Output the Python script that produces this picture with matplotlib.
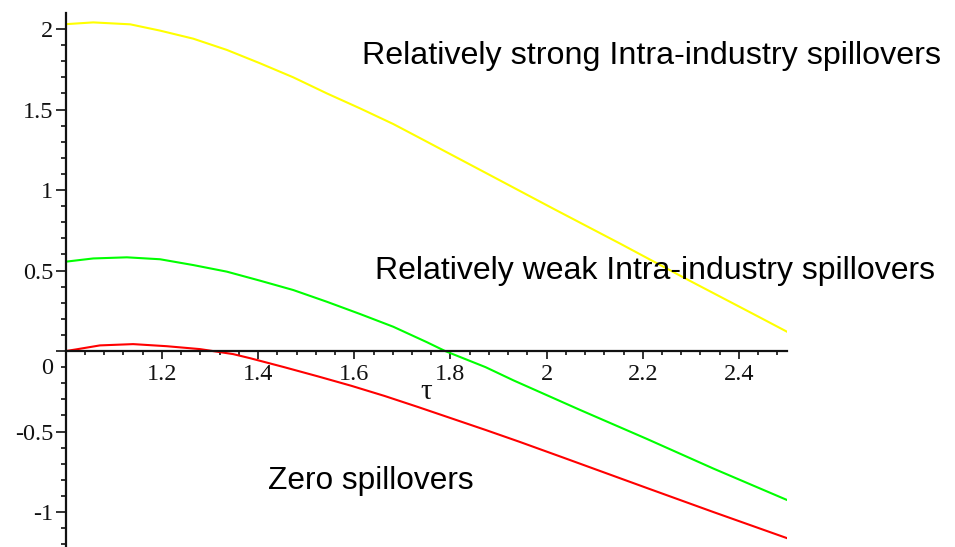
import matplotlib
matplotlib.use("Agg")
import matplotlib.pyplot as plt
from matplotlib.ticker import FixedLocator, MultipleLocator
from matplotlib.transforms import ScaledTranslation

# ---- data ----
tau_strong = [1.00, 1.057, 1.134, 1.196, 1.265, 1.335, 1.404, 1.473, 1.543,
              1.612, 1.681, 1.737, 1.875, 2.014, 2.153, 2.291, 2.430, 2.50]
val_strong = [2.03, 2.041, 2.029, 1.99, 1.94, 1.87, 1.787, 1.70, 1.60,
              1.507, 1.41, 1.322, 1.104, 0.884, 0.667, 0.447, 0.230, 0.12]

tau_weak = [1.00, 1.057, 1.127, 1.196, 1.265, 1.335, 1.404, 1.473, 1.543,
            1.612, 1.681, 1.751, 1.789, 1.873, 1.931, 2.069, 2.208, 2.347, 2.50]
val_weak = [0.555, 0.575, 0.582, 0.57, 0.534, 0.493, 0.437, 0.379, 0.306,
            0.23, 0.151, 0.055, 0.0, -0.10, -0.182, -0.365, -0.545, -0.73, -0.925]

tau_zero = [1.00, 1.021, 1.071, 1.140, 1.210, 1.279, 1.348, 1.384, 1.454,
            1.524, 1.594, 1.663, 1.733, 1.803, 1.873, 1.943, 2.033, 2.208, 2.347, 2.50]
val_zero = [0.0, 0.01, 0.035, 0.043, 0.03, 0.012, -0.019, -0.045, -0.10,
            -0.157, -0.216, -0.279, -0.348, -0.419, -0.49, -0.563, -0.66, -0.85, -1.0, -1.162]

x_ticks = [1.2, 1.4, 1.6, 1.8, 2.0, 2.2, 2.4]
x_tick_labels = ["1.2", "1.4", "1.6", "1.8", "2", "2.2", "2.4"]
y_ticks = [-1, -0.5, 0, 0.5, 1, 1.5, 2]
y_tick_labels = ["-1", "-0.5", "0", "0.5", "1", "1.5", "2"]

label_strong = "Relatively strong Intra-industry spillovers"
label_weak = "Relatively weak Intra-industry spillovers"
label_zero = "Zero spillovers"
axis_label = "\u03c4"

# ---- figure ----
W, H = 955, 547
fig = plt.figure(figsize=(W / 100, H / 100), dpi=100)
fig.patch.set_facecolor("white")
x0_px, x1_px, top_px = 65.8, 787.0, 13.3
ax = fig.add_axes([x0_px / W, 0.0, (x1_px - x0_px) / W, (H - top_px) / H])
ax.set_xlim(1.0, 2.5)
ax.set_ylim(-1.217, 2.0975)
ax.patch.set_alpha(0)

ax.plot(tau_strong, val_strong, color="#FFFF00", lw=1.5, zorder=2)
ax.plot(tau_weak, val_weak, color="#00FF00", lw=1.5, zorder=2)
ax.plot(tau_zero, val_zero, color="#FF0000", lw=1.5, zorder=2)

for s in ("top", "right"):
    ax.spines[s].set_visible(False)
ax.spines["left"].set_position(("data", 1.0))
ax.spines["bottom"].set_position(("data", 0.0))
for s in ("left", "bottom"):
    ax.spines[s].set_linewidth(1.6)
    ax.spines[s].set_color("#111111")
    ax.spines[s].set_zorder(3)

ax.xaxis.set_major_locator(FixedLocator(x_ticks))
ax.set_xticklabels(x_tick_labels)
ax.xaxis.set_minor_locator(MultipleLocator(0.04))
ax.yaxis.set_major_locator(FixedLocator(y_ticks))
ax.set_yticklabels(y_tick_labels)
ax.yaxis.set_minor_locator(MultipleLocator(0.1))

serif = ["Liberation Serif", "DejaVu Serif"]
ax.tick_params(axis="x", which="major", direction="out", length=5.5, width=1.2,
               pad=3.5, labelsize=17.5, colors="#111111")
ax.tick_params(axis="x", which="minor", direction="out", length=3.2, width=1.2,
               colors="#111111")
ax.tick_params(axis="y", which="major", direction="out", length=7.2, width=1.2,
               pad=2.0, labelsize=17.5, colors="#111111")
ax.tick_params(axis="y", which="minor", direction="out", length=3.6, width=1.2,
               colors="#111111")
for lab in ax.get_xticklabels() + ax.get_yticklabels():
    lab.set_family(serif)

# Maple draws the "0" label below the horizontal axis
ticks = ax.yaxis.get_major_ticks()
zero_idx = y_ticks.index(0)
lab0 = ticks[zero_idx].label1
lab0.set_transform(lab0.get_transform() + ScaledTranslation(0, -0.15, fig.dpi_scale_trans))

ax.text(1.749, -0.255, axis_label, family=serif, fontsize=21,
        ha="center", va="center", color="#111111")

sans = ["Liberation Sans", "DejaVu Sans"]
ax.text(1.616, 1.781, label_strong, family=sans, fontsize=23.2,
        ha="left", va="baseline", color="black")
ax.text(1.643, 0.447, label_weak, family=sans, fontsize=23.0,
        ha="left", va="baseline", color="black")
ax.text(1.4206, -0.859, label_zero, family=sans, fontsize=22.8,
        ha="left", va="baseline", color="black")

fig.savefig("out.png", dpi=100, facecolor="white")
